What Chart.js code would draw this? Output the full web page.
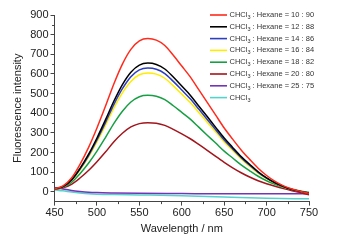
<!DOCTYPE html>
<html>
<head>
<meta charset="utf-8">
<script src="https://cdn.jsdelivr.net/npm/chart.js@4.4.1/dist/chart.umd.min.js"></script>
<style>
  body { margin: 0; background: #fff; }
  #wrap { width: 344px; height: 242px; }
</style>
</head>
<body>
<div id="wrap"><canvas id="c"></canvas></div>
<script>
// wavelength grid (nm) for the emission curves
const wl = [450, 460, 470, 480, 490, 500, 510, 520, 530, 540, 550, 560, 570, 580, 590, 600,
  610, 620, 630, 640, 650, 660, 670, 680, 690, 700, 710, 720, 730, 740, 750]
// sparser grid for the two flat curves
const wlFlat = [450, 460, 470, 480, 490, 500, 520, 550, 600, 650, 700, 750]

const hex1090 = [15, 30, 70, 140, 225, 325, 435, 550, 650, 725, 768, 780, 772, 745, 695, 640,
  585, 520, 455, 390, 325, 268, 213, 165, 120, 83, 53, 30, 14, 2, -8]
const hex1288 = [15, 27, 60, 119, 190, 274, 366, 462, 546, 609, 645, 655, 648, 625, 584, 538,
  492, 437, 383, 328, 274, 226, 180, 140, 102, 71, 46, 27, 12, 2, -6]
const hex1486 = [15, 26, 59, 115, 183, 264, 352, 445, 525, 586, 621, 630, 624, 602, 562, 518,
  473, 421, 368, 316, 264, 218, 174, 135, 99, 69, 45, 26, 12, 2, -6]
const hex1684 = [15, 26, 57, 111, 176, 254, 338, 427, 504, 562, 596, 605, 599, 578, 539, 497,
  454, 404, 354, 304, 254, 210, 167, 130, 95, 67, 44, 26, 12, 2, -6]
const hex1882 = [15, 23, 48, 92, 145, 207, 276, 348, 410, 457, 484, 491, 486, 469, 438, 404,
  370, 329, 288, 248, 207, 172, 137, 107, 79, 56, 38, 23, 12, 4, -3]
const hex2080 = [12, 20, 38, 70, 108, 153, 202, 255, 298, 330, 347, 352, 349, 338, 318, 295,
  270, 241, 211, 180, 150, 122, 97, 75, 56, 41, 28, 16, 5, -5, -15]
const hex2575 = [22, 14, 7, 2, -2, -4, -6, -8, -9, -10, -10, -10]
const chcl3 = [10, 5, -1, -6, -10, -12, -14, -16, -20, -27, -33, -36]

const labels = ['CHCl3 : Hexane = 10 : 90', 'CHCl3 : Hexane = 12 : 88', 'CHCl3 : Hexane = 14 : 86',
  'CHCl3 : Hexane = 16 : 84', 'CHCl3 : Hexane = 18 : 82', 'CHCl3 : Hexane = 20 : 80',
  'CHCl3 : Hexane = 25 : 75', 'CHCl3']
const colors = ['#ff2b1c', '#000000', '#2b3fbf', '#ffec00', '#16a043', '#a3151c', '#7434b8', '#55d2cc']

const series = [hex1090, hex1288, hex1486, hex1684, hex1882, hex2080, hex2575, chcl3]

function pts (xs, ys) {
  return xs.map((x, i) => ({ x: x, y: ys[i] }))
}

// legend drawn inside the plot, with CHCl3 subscript
const legendBox = {
  id: 'legendBox',
  afterDatasetsDraw (chart) {
    const ctx = chart.ctx
    ctx.save()
    chart.data.datasets.forEach((ds, i) => {
      const y = 15 + i * 11.8
      ctx.strokeStyle = ds.borderColor
      ctx.lineWidth = 1.6
      ctx.beginPath()
      ctx.moveTo(210, y)
      ctx.lineTo(227, y)
      ctx.stroke()
      ctx.fillStyle = '#333'
      ctx.textBaseline = 'middle'
      let x = 229.5
      ctx.font = '7.5px "Liberation Sans", Arial, sans-serif'
      ctx.fillText('CHCl', x, y)
      x += ctx.measureText('CHCl').width
      ctx.font = '5.5px "Liberation Sans", Arial, sans-serif'
      ctx.fillText('3', x, y + 2.5)
      x += ctx.measureText('3').width
      ctx.font = '7.5px "Liberation Sans", Arial, sans-serif'
      ctx.fillText(ds.label.slice(5), x, y)
    })
    ctx.restore()
  }
}

// short minor ticks between the labelled ones
const minorTicks = {
  id: 'minorTicks',
  afterDraw (chart) {
    const ctx = chart.ctx
    const xs = chart.scales.x
    const ys = chart.scales.y
    ctx.save()
    ctx.strokeStyle = '#444'
    ctx.lineWidth = 1
    ctx.beginPath()
    for (let v = 475; v < 750; v += 50) {
      const px = Math.round(xs.getPixelForValue(v)) + 0.5
      ctx.moveTo(px, xs.top)
      ctx.lineTo(px, xs.top + 2.5)
    }
    for (let v = 50; v < 900; v += 100) {
      const py = Math.round(ys.getPixelForValue(v)) + 0.5
      ctx.moveTo(ys.right, py)
      ctx.lineTo(ys.right - 2.5, py)
    }
    ctx.stroke()
    ctx.restore()
  }
}

const tickFont = { family: '"Liberation Sans", Arial, sans-serif', size: 11 }

new Chart(document.getElementById('c').getContext('2d'), {
  type: 'line',
  data: {
    datasets: series.map((s, i) => ({
      label: labels[i],
      data: i < 6 ? pts(wl, s) : pts(wlFlat, s),
      borderColor: colors[i],
      borderWidth: 1.5,
      pointRadius: 0,
      cubicInterpolationMode: 'monotone',
      fill: false
    }))
  },
  options: {
    responsive: true,
    maintainAspectRatio: false,
    animation: false,
    layout: { padding: { left: 11, right: 35, top: 15, bottom: 6 } },
    plugins: { legend: { display: false }, tooltip: { enabled: false } },
    scales: {
      x: {
        type: 'linear',
        min: 450,
        max: 750,
        border: { color: '#444', width: 1 },
        grid: { display: true, drawOnChartArea: false, drawTicks: true, tickLength: 4, color: '#444' },
        ticks: { stepSize: 50, color: '#222', font: tickFont, padding: 1, maxRotation: 0 },
        title: { display: true, text: 'Wavelength / nm', color: '#222', font: tickFont, padding: { top: 2, bottom: 0 } }
      },
      y: {
        min: -50,
        max: 900,
        border: { color: '#444', width: 1 },
        grid: { display: true, drawOnChartArea: false, drawTicks: true, tickLength: 4, color: '#444' },
        ticks: { stepSize: 100, includeBounds: false, color: '#222', font: tickFont, padding: 2 },
        title: { display: true, text: 'Fluorescence intensity', color: '#222', font: tickFont, padding: { top: 0, bottom: 4 } }
      }
    }
  },
  plugins: [legendBox, minorTicks]
})
</script>
</body>
</html>
